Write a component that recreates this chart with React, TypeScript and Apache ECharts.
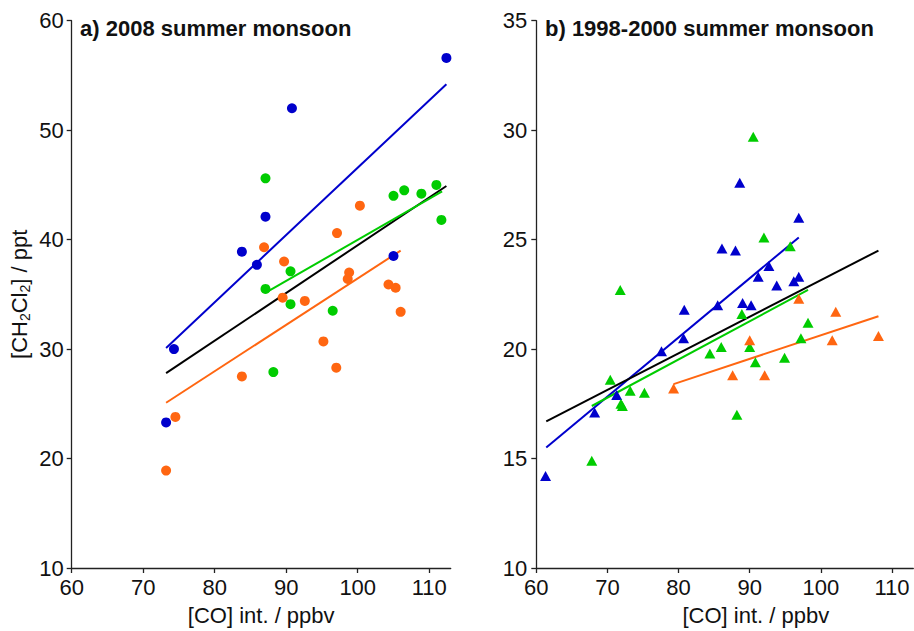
import React, { useEffect, useRef } from "react";
import * as echarts from "echarts";

// Panel a) 2008 summer monsoon (circles)
const blueA_x = [112.4, 90.8, 87.1, 83.8, 85.9, 105.0, 74.3, 73.2];
const blueA_y = [56.6, 52.0, 42.1, 38.9, 37.7, 38.5, 30.0, 23.3];
const greenA_x = [87.1, 105.0, 106.5, 108.9, 111.0, 111.7, 90.6, 87.1, 90.6, 96.5, 88.2];
const greenA_y = [45.6, 44.0, 44.5, 44.2, 45.0, 41.8, 37.1, 35.5, 34.1, 33.5, 27.9];
const orangeA_x = [100.3, 97.1, 86.9, 89.7, 98.8, 98.6, 104.3, 105.3, 89.5, 92.6, 106.0, 95.2, 97.0, 83.8, 74.5, 73.2];
const orangeA_y = [43.1, 40.6, 39.3, 38.0, 37.0, 36.4, 35.9, 35.6, 34.7, 34.4, 33.4, 30.7, 28.3, 27.5, 23.8, 18.9];
// regression line end points [x0, y0, x1, y1]
const fitBlueA = [73.2, 30.1, 112.4, 54.2];
const fitBlackA = [73.2, 27.8, 112.4, 44.9];
const fitGreenA = [87.5, 35.3, 111.8, 44.4];
const fitOrangeA = [73.2, 25.1, 106.0, 39.0];

// Panel b) 1998-2000 summer monsoon (triangles)
const blueB_x = [88.6, 96.9, 86.1, 88.0, 92.7, 91.2, 93.8, 96.2, 96.9, 89.0, 90.2, 85.5, 80.8, 80.7, 77.6, 71.3, 68.2, 61.3];
const blueB_y = [27.6, 26.0, 24.6, 24.5, 23.8, 23.3, 22.9, 23.1, 23.3, 22.1, 22.0, 22.0, 21.8, 20.5, 19.9, 17.9, 17.1, 14.2];
const greenB_x = [90.5, 92.0, 95.7, 71.8, 88.9, 98.2, 97.2, 86.0, 90.0, 84.4, 94.9, 90.8, 70.4, 73.2, 75.2, 71.9, 72.1, 88.2, 67.8];
const greenB_y = [29.7, 25.1, 24.7, 22.7, 21.6, 21.2, 20.5, 20.1, 20.1, 19.8, 19.6, 19.4, 18.6, 18.1, 18.0, 17.5, 17.4, 17.0, 14.9];
const orangeB_x = [96.9, 102.1, 90.0, 101.6, 108.1, 87.6, 92.1, 79.3];
const orangeB_y = [22.3, 21.7, 20.4, 20.4, 20.6, 18.8, 18.8, 18.2];
const fitBlueB = [61.4, 15.5, 96.9, 25.1];
const fitBlackB = [61.4, 16.7, 108.1, 24.5];
const fitGreenB = [67.8, 17.4, 98.2, 22.7];
const fitOrangeB = [79.3, 18.4, 108.1, 21.5];

const xTicks = [60, 70, 80, 90, 100, 110];
const yTicksA = [10, 20, 30, 40, 50, 60];
const yTicksB = [10, 15, 20, 25, 30, 35];

const titleA = "a) 2008 summer monsoon";
const titleB = "b) 1998-2000 summer monsoon";
const xName = "[CO] int. / ppbv";

const BLUE = "#0000cc";
const GREEN = "#00cc00";
const ORANGE = "#ff6611";
const BLACK = "#000000";
const FONT = "Liberation Sans, Arial, sans-serif";

const zip = (xs: number[], ys: number[]) => xs.map((x, i) => [x, ys[i]]);

export default function App() {
  const ref = useRef<HTMLDivElement>(null);
  useEffect(() => {
    if (!ref.current) return;
    const chart = echarts.init(ref.current, null, { renderer: "svg" });

    const axisCommon = {
      axisLine: { show: true, lineStyle: { color: "#222", width: 1.3 } },
      axisTick: { show: true, length: 5, lineStyle: { color: "#222", width: 1.3 } },
      splitLine: { show: false },
    };
    const labelStyle = { fontFamily: FONT, fontSize: 22, color: "#111", margin: 8 };

    const xAxisFor = (gridIndex: number, pad: number) => ({
      type: "value",
      gridIndex,
      min: 60,
      max: 113,
      interval: 10,
      ...axisCommon,
      axisTick: { ...axisCommon.axisTick, customValues: xTicks },
      axisLabel: { ...labelStyle, customValues: xTicks },
      name: xName,
      nameLocation: "middle",
      nameGap: 36,
      nameTextStyle: { fontFamily: FONT, fontSize: 22, color: "#111", padding: [0, 0, 0, pad] },
    });

    const line = (p: number[], color: string, idx: number) => ({
      type: "line",
      xAxisIndex: idx,
      yAxisIndex: idx,
      data: [[p[0], p[1]], [p[2], p[3]]],
      symbol: "none",
      lineStyle: { color, width: 2 },
      silent: true,
      z: 2,
    });
    const scatter = (xs: number[], ys: number[], color: string, idx: number, symbol: string, size: any) => ({
      type: "scatter",
      xAxisIndex: idx,
      yAxisIndex: idx,
      data: zip(xs, ys),
      symbol,
      symbolSize: size,
      itemStyle: { color, opacity: 1 },
      z: 3,
    });

    chart.setOption({
      animation: false,
      backgroundColor: "#ffffff",
      title: [
        { text: titleA, left: 80, top: 17, padding: 0, textStyle: { fontFamily: FONT, fontSize: 22, fontWeight: "bold", color: "#111" } },
        { text: titleB, left: 545, top: 17, padding: 0, textStyle: { fontFamily: FONT, fontSize: 22, fontWeight: "bold", color: "#111" } },
      ],
      grid: [
        { left: 71.7, top: 20.7, width: 379, height: 549.6, containLabel: false },
        { left: 536.3, top: 20.7, width: 377, height: 549.6, containLabel: false },
      ],
      xAxis: [xAxisFor(0, 0), xAxisFor(1, 62)],
      yAxis: [
        {
          type: "value",
          gridIndex: 0,
          min: 10,
          max: 60,
          interval: 10,
          ...axisCommon,
          axisTick: { ...axisCommon.axisTick, customValues: yTicksA },
          axisLabel: { ...labelStyle, customValues: yTicksA },
          name: "[CH{s|2}Cl{s|2}] / ppt",
          nameLocation: "middle",
          nameRotate: 90,
          nameGap: 40,
          nameTextStyle: {
            fontFamily: FONT,
            fontSize: 22,
            color: "#111",
            lineHeight: 24,
            rich: { s: { fontFamily: FONT, fontSize: 14, color: "#111", lineHeight: 6, verticalAlign: "bottom" } },
          },
        },
        {
          type: "value",
          gridIndex: 1,
          min: 10,
          max: 35,
          interval: 5,
          ...axisCommon,
          axisTick: { ...axisCommon.axisTick, customValues: yTicksB },
          axisLabel: { ...labelStyle, margin: 9, customValues: yTicksB },
        },
      ],
      series: [
        line(fitBlueA, BLUE, 0),
        line(fitBlackA, BLACK, 0),
        line(fitGreenA, GREEN, 0),
        line(fitOrangeA, ORANGE, 0),
        scatter(blueA_x, blueA_y, BLUE, 0, "circle", 10),
        scatter(greenA_x, greenA_y, GREEN, 0, "circle", 10),
        scatter(orangeA_x, orangeA_y, ORANGE, 0, "circle", 10),
        line(fitBlueB, BLUE, 1),
        line(fitBlackB, BLACK, 1),
        line(fitGreenB, GREEN, 1),
        line(fitOrangeB, ORANGE, 1),
        scatter(blueB_x, blueB_y, BLUE, 1, "triangle", [11, 10]),
        scatter(greenB_x, greenB_y, GREEN, 1, "triangle", [11, 10]),
        scatter(orangeB_x, orangeB_y, ORANGE, 1, "triangle", [11, 10]),
      ],
    });
    return () => chart.dispose();
  }, []);
  return (
    <div
      ref={ref}
      style={{ position: "fixed", left: 0, top: 0, width: 914, height: 631, background: "#fff" }}
    />
  );
}
